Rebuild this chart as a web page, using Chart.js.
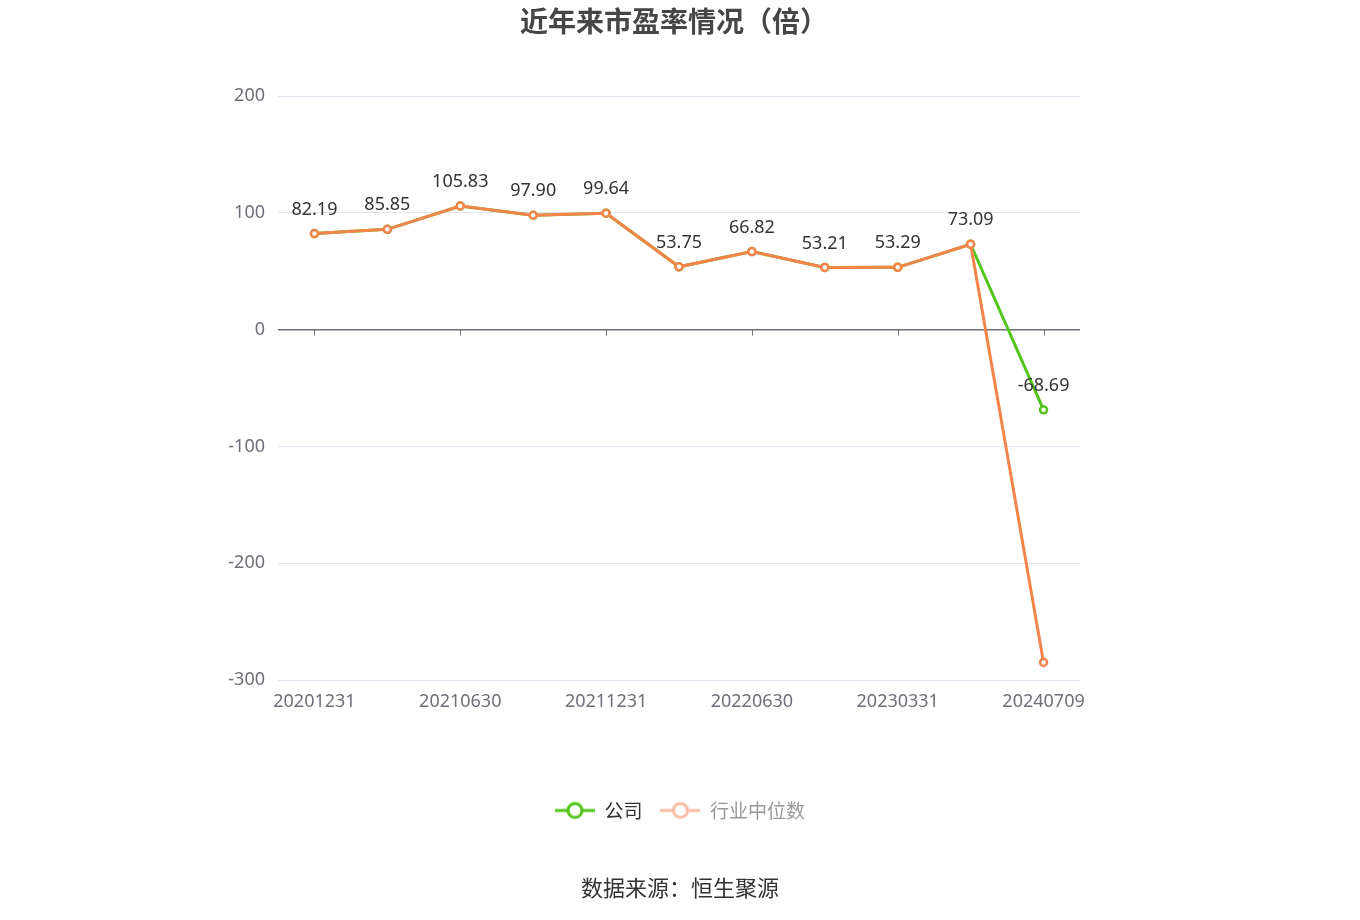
<!DOCTYPE html>
<html>
<head>
<meta charset="utf-8">
<script src="https://cdn.jsdelivr.net/npm/chart.js@4.4.1/dist/chart.umd.min.js"></script>
<style>
  html, body { margin: 0; padding: 0; background: #fff; }
  #wrap { width: 1360px; height: 920px; position: relative; }
</style>
</head>
<body>
<div id="wrap"><canvas id="peChart"></canvas></div>
<script>
// chart data
const periods = ['20201231', '20210331', '20210630', '20210930', '20211231', '20220331',
  '20220630', '20221231', '20230331', '20231231', '20240709'];
const companyPE = [82.19, 85.85, 105.83, 97.90, 99.64, 53.75, 66.82, 53.21, 53.29, 73.09, -68.69];
const industryPE = [82.19, 85.85, 105.83, 97.90, 99.64, 53.75, 66.82, 53.21, 53.29, 73.09, -285];
const yTicks = [200, 100, 0, -100, -200, -300];

const GREEN = '#52c41a';
const ORANGE = '#f5844a';
const NUM_FONT = '"Noto Sans", "Noto Sans CJK SC", sans-serif';
const CJK_FONT = '"Noto Sans CJK SC", "Noto Sans", sans-serif';

/**
 * Legend icon: short line with a hollow circle
 */
function legendIcon(color) {
  const c = document.createElement('canvas');
  c.width = 40;
  c.height = 20;
  const g = c.getContext('2d');
  g.strokeStyle = color;
  g.lineWidth = 3;
  g.beginPath();
  g.moveTo(0, 10);
  g.lineTo(40, 10);
  g.stroke();
  g.fillStyle = '#fff';
  g.beginPath();
  g.arc(20, 10, 7, 0, Math.PI * 2);
  g.fill();
  g.stroke();
  return c;
}

// title + source text, zero axis tick marks, value labels
const decorPlugin = {
  id: 'decor',
  beforeDatasetsDraw(chart) {
    const { ctx, scales: { x, y } } = chart;
    const y0 = y.getPixelForValue(0);
    ctx.save();
    ctx.strokeStyle = '#6e7079';
    ctx.lineWidth = 1;
    periods.forEach((p, i) => {
      if (i % 2) return;
      const px = Math.round(x.getPixelForValue(i)) + 0.5;
      ctx.beginPath();
      ctx.moveTo(px, y0);
      ctx.lineTo(px, y0 + 6);
      ctx.stroke();
    });
    ctx.restore();
  },
  afterDatasetsDraw(chart) {
    const { ctx } = chart;
    const meta = chart.getDatasetMeta(0);
    ctx.save();
    ctx.font = '18px ' + NUM_FONT;
    ctx.fillStyle = '#333';
    ctx.textAlign = 'center';
    ctx.textBaseline = 'middle';
    meta.data.forEach((pt, i) => {
      ctx.fillText(companyPE[i].toFixed(2), pt.x, pt.y - 24);
    });
    ctx.restore();
  },
  afterDraw(chart) {
    const { ctx, width } = chart;
    ctx.save();
    ctx.textAlign = 'center';
    ctx.textBaseline = 'middle';
    ctx.fillStyle = '#464646';
    ctx.font = 'bold 28px ' + CJK_FONT;
    ctx.fillText('近年来市盈率情况（倍）', width / 2 - 6, 21);
    ctx.fillStyle = '#333';
    ctx.font = '22px ' + CJK_FONT;
    ctx.fillText('数据来源：恒生聚源', width / 2, 888);
    ctx.restore();
  }
};

const ctx = document.getElementById('peChart').getContext('2d');
new Chart(ctx, {
  type: 'line',
  data: {
    labels: periods,
    datasets: [
      {
        label: '公司',
        data: companyPE,
        borderColor: GREEN,
        backgroundColor: '#fff',
        borderWidth: 3,
        pointRadius: 3.5,
        pointBorderWidth: 2.5,
        pointBackgroundColor: '#fff',
        pointBorderColor: GREEN,
        tension: 0,
        order: 2
      },
      {
        label: '行业中位数',
        data: industryPE,
        borderColor: ORANGE,
        backgroundColor: '#fff',
        borderWidth: 3,
        pointRadius: 3.5,
        pointBorderWidth: 2.5,
        pointBackgroundColor: '#fff',
        pointBorderColor: ORANGE,
        tension: 0,
        order: 1
      }
    ]
  },
  options: {
    responsive: true,
    maintainAspectRatio: false,
    animation: false,
    layout: { padding: { top: 96, right: 0, bottom: 90, left: 0 } },
    plugins: {
      tooltip: { enabled: false },
      legend: {
        position: 'bottom',
        labels: {
          usePointStyle: true,
          pointStyleWidth: 40,
          boxHeight: 20,
          padding: 18,
          font: { size: 19, family: CJK_FONT },
          generateLabels: () => [
            { text: '公司', pointStyle: legendIcon(GREEN), fontColor: '#333',
              strokeStyle: GREEN, fillStyle: '#fff', lineWidth: 0, datasetIndex: 0 },
            { text: '行业中位数', pointStyle: legendIcon('#f9bda3'), fontColor: '#999',
              strokeStyle: '#f9bda3', fillStyle: '#fff', lineWidth: 0, datasetIndex: 1 }
          ]
        }
      }
    },
    scales: {
      x: {
        offset: true,
        grid: { display: false },
        border: { display: false },
        ticks: {
          autoSkip: false,
          maxRotation: 0,
          padding: 3,
          color: '#6e7079',
          font: { size: 18, family: NUM_FONT },
          callback: (v, i) => (i % 2 ? '' : periods[i])
        },
        afterFit: s => { s.height = 103; }
      },
      y: {
        min: -300,
        max: 200,
        afterBuildTicks: s => { s.ticks = yTicks.map(v => ({ value: v })); },
        border: { display: false },
        grid: {
          drawTicks: false,
          color: c => (c.tick && c.tick.value === 0 ? '#6e7079' : '#e0e6f1'),
          lineWidth: c => (c.tick && c.tick.value === 0 ? 1.5 : 1)
        },
        ticks: {
          padding: 13,
          color: '#6e7079',
          font: { size: 18, family: NUM_FONT }
        },
        afterFit: s => { s.width = 278; }
      },
      // empty axis on the right that only reserves space
      yRight: {
        position: 'right',
        min: 0,
        max: 1,
        grid: { display: false },
        border: { display: false },
        ticks: { display: false },
        afterFit: s => { s.width = 280; }
      }
    }
  },
  plugins: [decorPlugin]
});
</script>
</body>
</html>
